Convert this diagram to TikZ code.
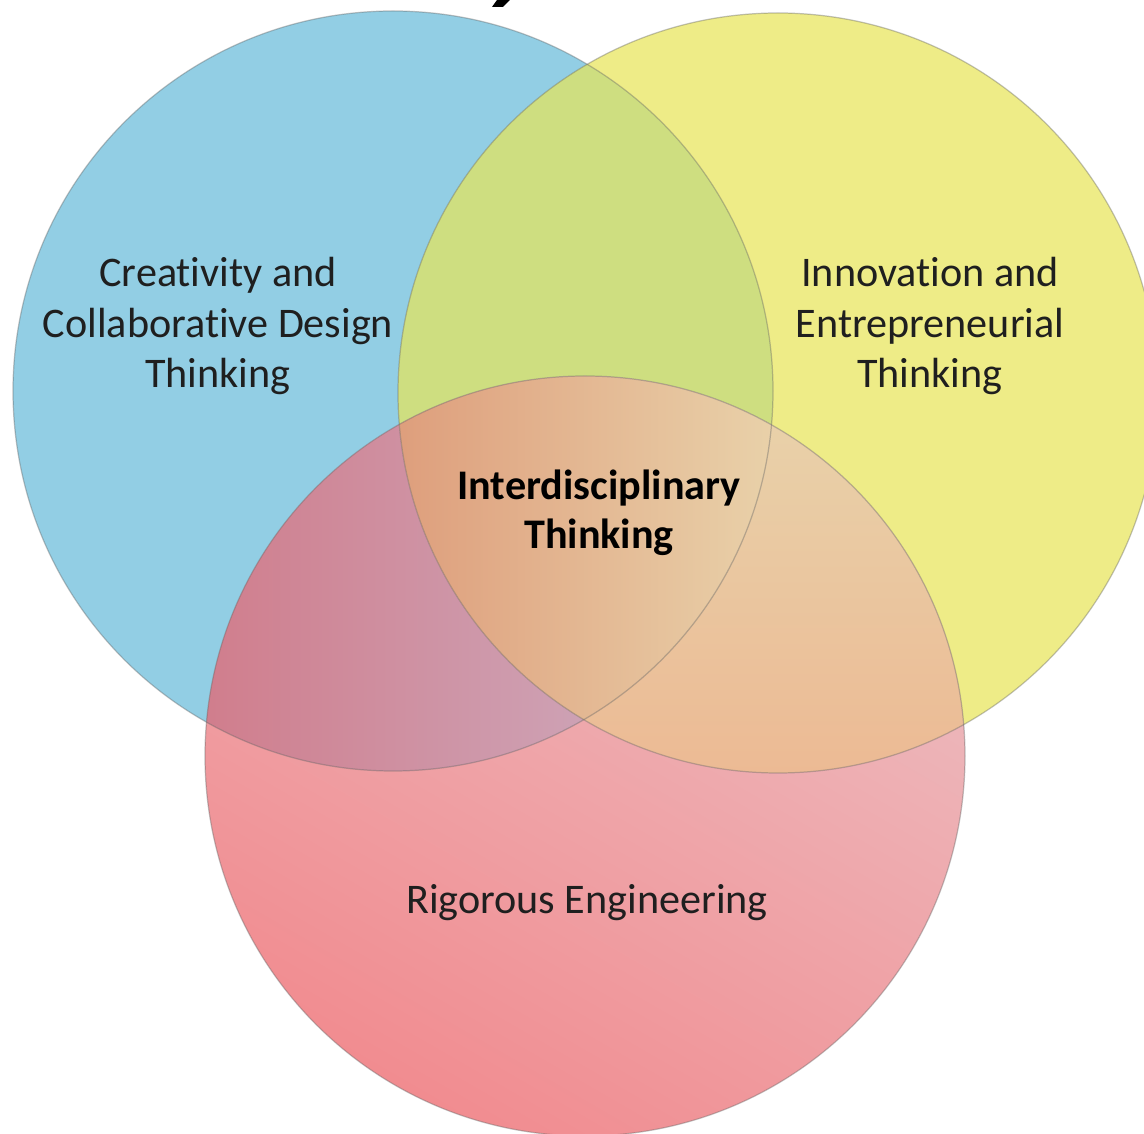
\documentclass[tikz,border=0pt]{standalone}
\usepackage{fontspec}
\setmainfont[Ligatures=NoCommon]{Carlito}

\definecolor{vblue}{RGB}{146,206,228}
\definecolor{vyellow}{RGB}{238,236,135}
\definecolor{vgreen}{RGB}{206,222,128}
\definecolor{redtop}{RGB}{236,192,196}
\definecolor{redbot}{RGB}{241,140,144}
\definecolor{brleft}{RGB}{208,125,140}
\definecolor{brright}{RGB}{204,180,201}
\definecolor{yrtop}{RGB}{232,212,172}
\definecolor{yrbot}{RGB}{236,186,148}
\definecolor{midleft}{RGB}{222,158,124}
\definecolor{midright}{RGB}{233,210,170}

\begin{document}
\begin{tikzpicture}[venn line/.style={draw=black!60,draw opacity=0.4,line width=0.7pt},
  venn text/.style={align=center,text=black!88,
   font=\fontsize{24}{28.5}\selectfont}]
 \useasboundingbox (0,0) rectangle (22.88,22.68);
 \coordinate (cb) at (7.86,14.86);
 \coordinate (cy) at (15.56,14.82);
 \coordinate (cr) at (11.70,7.56);
 % what is left of the title
 \fill (9.94,22.68) -- (10.20,22.68) -- (10.06,22.54) -- (9.84,22.54) -- cycle;
 \fill[vblue] (cb) circle (7.6);
 \fill[vyellow] (cy) circle (7.6);
 \begin{scope}
  \clip (cb) circle (7.6);
  \fill[vgreen] (cy) circle (7.6);
 \end{scope}
 \shade[top color=redtop,bottom color=redbot,shading angle=-30] (cr) circle (7.6);
 \begin{scope}
  \clip (cb) circle (7.6);
  \clip (cr) circle (7.6);
  \shade[left color=brleft,right color=brright] (4.0,4.0) rectangle (15.6,15.2);
 \end{scope}
 \begin{scope}
  \clip (cy) circle (7.6);
  \clip (cr) circle (7.6);
  \shade[top color=yrtop,bottom color=yrbot] (7.9,7.2) rectangle (19.4,15.2);
 \end{scope}
 \begin{scope}
  \clip (cb) circle (7.6);
  \clip (cy) circle (7.6);
  \clip (cr) circle (7.6);
  \shade[left color=midleft,right color=midright] (7.9,7.2) rectangle (15.6,15.2);
 \end{scope}
 \draw[venn line] (cb) circle (7.6);
 \draw[venn line] (cy) circle (7.6);
 \draw[venn line] (cr) circle (7.6);

 \node[venn text] (creat) at (4.36,16.16)
  {Creativity and\\Collaborative Design\\Thinking};
 \node[venn text] (innov) at (18.60,16.16)
  {Innovation and\\Entrepreneurial\\Thinking};
 \node[venn text,font=\fontsize{24}{28}\selectfont\bfseries,text=black] (inter)
  at (11.98,12.42) {Interdisciplinary\\Thinking};
 \node[venn text] (rigor) at (11.74,4.62) {Rigorous Engineering};
\end{tikzpicture}
\end{document}
